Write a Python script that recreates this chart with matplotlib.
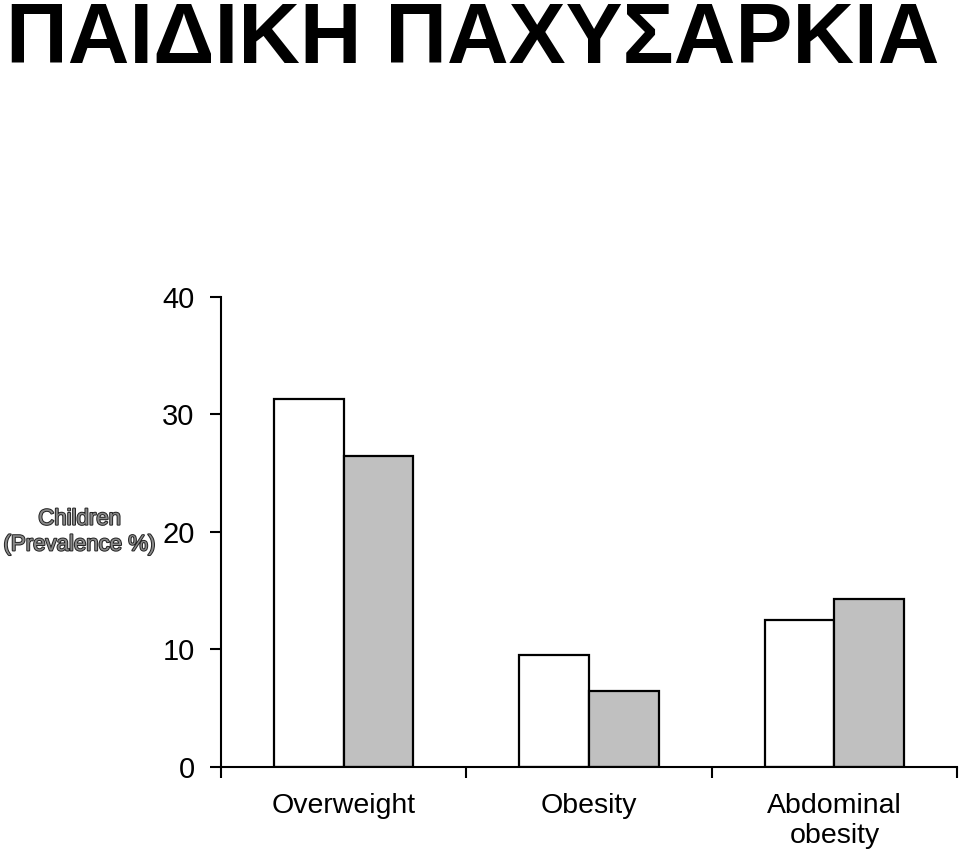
# childhood obesity prevalence bars

import matplotlib
matplotlib.use("Agg")
import matplotlib.pyplot as plt
import matplotlib.patheffects as pe

plt.rcParams['font.family'] = ['Liberation Sans', 'DejaVu Sans']

title = "ΠΑΙΔΙΚΗ ΠΑΧΥΣΑΡΚΙΑ"
categories = ["Overweight", "Obesity", "Abdominal\nobesity"]
white_vals = [31.3, 9.5, 12.5]
grey_vals = [26.5, 6.5, 14.3]
yticks = [0, 10, 20, 30, 40]

fig = plt.figure(figsize=(9.6, 8.52), dpi=100)
ax = fig.add_axes([0.2302, 0.0998, 0.7668, 0.5516])

bw = 0.284
centers = [i + 0.5 for i in range(len(categories))]
ax.bar([c - bw / 2 for c in centers], white_vals, width=bw, color="white",
       edgecolor="black", linewidth=1.6, zorder=3)
ax.bar([c + bw / 2 for c in centers], grey_vals, width=bw, color="#c0c0c0",
       edgecolor="black", linewidth=1.6, zorder=3)

ax.set_xlim(0, len(categories))
ax.set_ylim(0, 40)
ax.set_yticks(yticks)
ax.set_xticks(range(len(categories) + 1))
ax.set_xticklabels([])
ax.set_xticks(centers, minor=True)
ax.set_xticklabels(categories, minor=True, fontsize=20.5, linespacing=1.2)
ax.tick_params(axis="x", which="minor", length=0, pad=19)
ax.tick_params(axis="x", which="major", length=8, width=1.5, direction="out")
ax.tick_params(axis="y", length=8, width=1.5, direction="out", labelsize=21, pad=11)

for s in ["top", "right"]:
    ax.spines[s].set_visible(False)
for s in ["left", "bottom"]:
    ax.spines[s].set_linewidth(1.5)
ax.spines["bottom"].set_zorder(4)

fig.text(0.083, 0.3755, "Children\n(Prevalence %)", ha="center", va="center",
         fontsize=16, color="#8a8a8a", linespacing=1.3,
         path_effects=[pe.withStroke(linewidth=1.4, foreground="#222222")])

fig.text(0.006, 0.926, title, ha="left", va="baseline", fontsize=61.5,
         fontweight="bold")

fig.savefig("out.png", dpi=100)
